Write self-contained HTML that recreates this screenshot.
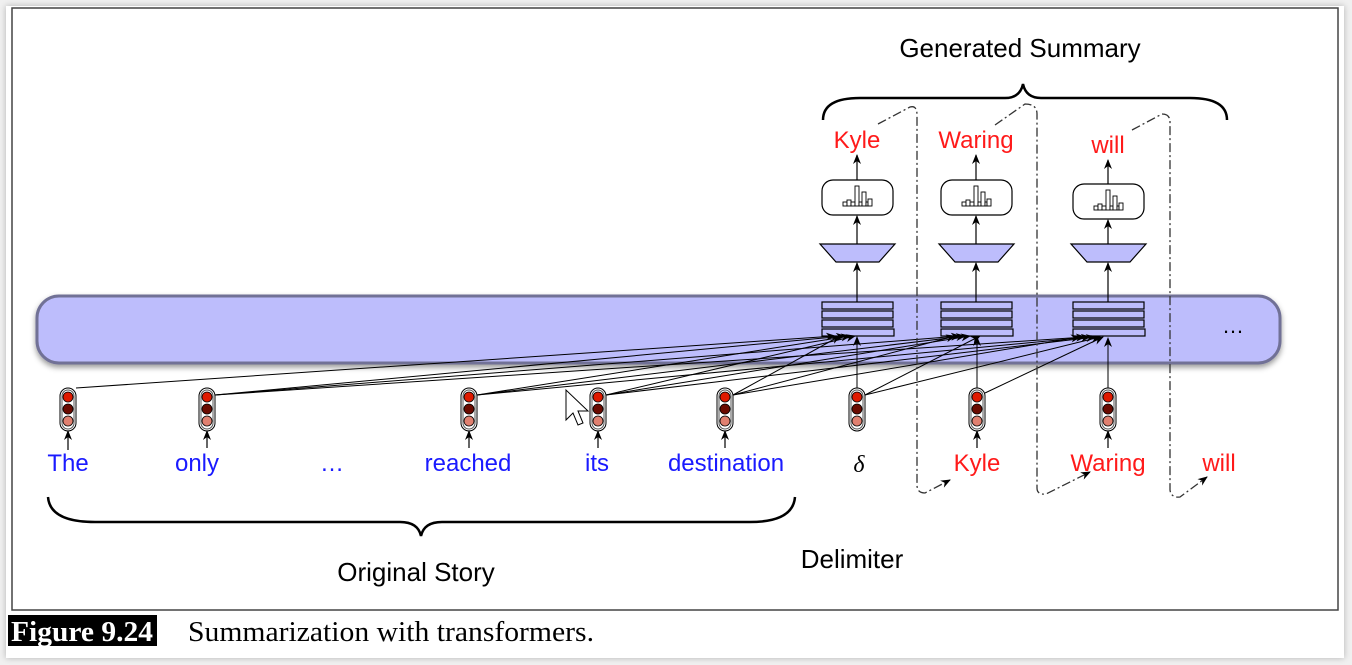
<!DOCTYPE html>
<html><head><meta charset="utf-8"><style>
html,body{margin:0;padding:0;background:#f0f0f0;}
body{width:1352px;height:665px;position:relative;overflow:hidden;}
#card{position:absolute;left:6px;top:6px;width:1338px;height:652px;background:#fff;box-shadow:0 0 6px rgba(0,0,0,0.25);}
svg{position:absolute;left:0;top:0;}
.s{font-family:"Liberation Sans",sans-serif;}
.r{font-family:"Liberation Serif",serif;}
</style></head><body>
<div id="card"></div>
<svg width="1352" height="665" viewBox="0 0 1352 665">
<defs>
<marker id="a" markerWidth="10" markerHeight="8" refX="9" refY="4" orient="auto" markerUnits="userSpaceOnUse"><path d="M0,0 L10,4 L0,8 L3,4 z" fill="#000"/></marker>
<filter id="sh" x="-5%" y="-30%" width="110%" height="160%"><feDropShadow dx="0" dy="3" stdDeviation="3" flood-color="#000" flood-opacity="0.4"/></filter>
<g id="tok">
<rect x="-8" y="-3" width="16" height="43" rx="8" fill="#fff" stroke="#000" stroke-width="1"/>
<rect x="-6" y="-1" width="12" height="39" rx="6" fill="none" stroke="#555" stroke-width="1"/>
<circle cx="0" cy="6" r="5" fill="#e01a00" stroke="#000" stroke-width="0.8"/>
<circle cx="0" cy="18" r="5" fill="#6b0a00" stroke="#000" stroke-width="0.8"/>
<circle cx="0" cy="30" r="5" fill="#e08070" stroke="#000" stroke-width="0.8"/>
</g>
<g id="stk" fill="#bdbdfc" stroke="#000" stroke-width="1.2">
<rect x="-35" y="0" width="71" height="7"/><rect x="-35" y="9" width="71" height="7"/><rect x="-35" y="18" width="71" height="7"/><rect x="-35" y="27" width="72" height="7"/>
</g>
<g id="head">
<rect x="-35" y="0" width="71" height="35" rx="11" fill="#fff" stroke="#000" stroke-width="1.2"/>
<g fill="#fff" stroke="#000" stroke-width="0.9">
<rect x="-14" y="22" width="4" height="4"/><rect x="-10" y="20" width="4" height="6"/><rect x="-6" y="22" width="4" height="4"/><rect x="-2" y="6" width="4" height="20"/><rect x="2" y="22" width="3" height="4"/><rect x="5" y="12" width="4" height="14"/><rect x="9" y="22" width="2" height="4"/><rect x="11" y="19" width="4" height="7"/>
</g>
</g>
<path id="trap" d="M-37,0 L38,0 L22,18 L-21,18 Z" fill="#bdbdfc" stroke="#000" stroke-width="1.2"/>
</defs>
<rect x="12" y="8" width="1326" height="602" fill="#fff" stroke="#444" stroke-width="1.5"/>
<rect x="37" y="296" width="1243" height="67" rx="22" fill="#bdbdfc" stroke="#717196" stroke-width="3" filter="url(#sh)"/>
<text class="s" x="1233" y="333" font-size="22" text-anchor="middle">…</text>

<g transform="translate(857,302)"><use href="#stk"/></g>
<g transform="translate(976,302)"><use href="#stk"/></g>
<g transform="translate(1108,302)"><use href="#stk"/></g>
<g transform="translate(857,244)"><use href="#trap"/></g>
<g transform="translate(976,244)"><use href="#trap"/></g>
<g transform="translate(1108,244)"><use href="#trap"/></g>
<g transform="translate(857,180)"><use href="#head"/></g>
<g transform="translate(976,180)"><use href="#head"/></g>
<g transform="translate(1108,184)"><use href="#head"/></g>
<g stroke="#000" stroke-width="1.2" marker-end="url(#a)">
<line x1="857" y1="302" x2="857" y2="263"/><line x1="976" y1="302" x2="976" y2="263"/><line x1="1108" y1="302" x2="1108" y2="263"/>
<line x1="857" y1="244" x2="857" y2="216"/><line x1="976" y1="244" x2="976" y2="216"/><line x1="1108" y1="244" x2="1108" y2="220"/>
<line x1="857" y1="180" x2="857" y2="155"/><line x1="976" y1="180" x2="976" y2="155"/><line x1="1108" y1="184" x2="1108" y2="160"/>
</g>
<g class="s" font-size="24" fill="#ff1a1a" text-anchor="middle">
<text x="857" y="148">Kyle</text>
<text x="976" y="148">Waring</text>
<text x="1108" y="153">will</text>
</g>

<g stroke="#000" stroke-width="1" marker-end="url(#a)" fill="none">
<line x1="76" y1="388" x2="835" y2="336"/>
<line x1="215" y1="395" x2="845" y2="336"/><line x1="215" y1="395" x2="960" y2="336"/><line x1="215" y1="395" x2="1085" y2="337"/>
<line x1="477" y1="395" x2="850" y2="336"/><line x1="477" y1="395" x2="965" y2="336"/><line x1="477" y1="395" x2="1090" y2="337"/>
<line x1="606" y1="395" x2="855" y2="336"/><line x1="606" y1="395" x2="970" y2="336"/><line x1="606" y1="395" x2="1095" y2="337"/>
<line x1="733" y1="395" x2="840" y2="336"/><line x1="733" y1="395" x2="955" y2="336"/><line x1="733" y1="395" x2="1080" y2="337"/>
<line x1="857" y1="388" x2="857" y2="337"/><line x1="865" y1="395" x2="980" y2="336"/><line x1="865" y1="395" x2="1100" y2="337"/>
<line x1="977" y1="388" x2="977" y2="337"/><line x1="985" y1="393" x2="1103" y2="337"/>
<line x1="1108" y1="388" x2="1108" y2="338"/>
</g>
<use href="#tok" x="68" y="391"/><use href="#tok" x="207" y="391"/><use href="#tok" x="469" y="391"/><use href="#tok" x="598" y="391"/><use href="#tok" x="725" y="391"/><use href="#tok" x="857" y="391"/><use href="#tok" x="977" y="391"/><use href="#tok" x="1108" y="391"/>
<g stroke="#000" stroke-width="1.2" marker-end="url(#a)">
<line x1="68" y1="450" x2="68" y2="431"/><line x1="207" y1="448" x2="207" y2="431"/><line x1="469" y1="448" x2="469" y2="431"/><line x1="598" y1="448" x2="598" y2="431"/><line x1="725" y1="448" x2="725" y2="431"/><line x1="977" y1="448" x2="977" y2="431"/><line x1="1108" y1="448" x2="1108" y2="431"/>
</g>
<g class="s" font-size="24" fill="#1a1aff" text-anchor="middle">
<text x="68" y="471">The</text><text x="197" y="471">only</text><text x="332" y="471">…</text><text x="468" y="471">reached</text><text x="597" y="471">its</text><text x="726" y="471">destination</text>
</g>
<text class="r" x="859" y="472" font-size="24" font-style="italic" text-anchor="middle">δ</text>
<g class="s" font-size="24" fill="#ff1a1a" text-anchor="middle">
<text x="977" y="471">Kyle</text><text x="1108" y="471">Waring</text><text x="1219" y="471">will</text>
</g>

<g stroke="#333" stroke-width="1.3" fill="none" stroke-dasharray="9,3,2,3">
<path d="M878,124 L910,107 Q917,105 917,115 L917,485 Q917,493 925,493 L950,480" marker-end="url(#a)"/>
<path d="M995,125 L1025,104 Q1037,104 1037,114 L1037,488 Q1037,495 1046,494 L1090,472" marker-end="url(#a)"/>
<path d="M1132,130 L1162,114 Q1170,114 1170,122 L1170,490 Q1171,498 1180,497 L1207,477" marker-end="url(#a)"/>
</g>

<path d="M823,120 Q823,98 860,98 L1005,98 Q1020,98 1023,84 Q1026,98 1041,98 L1190,98 Q1227,98 1227,120" fill="none" stroke="#000" stroke-width="2.5"/>
<path d="M48,497 Q50,522 95,522 L400,522 Q418,522 421,536 Q424,522 442,522 L750,522 Q793,522 795,497" fill="none" stroke="#000" stroke-width="2.5"/>
<g class="s" font-size="26" text-anchor="middle">
<text x="1020" y="57">Generated Summary</text>
<text x="416" y="581">Original Story</text>
<text x="852" y="568">Delimiter</text>
</g>

<path d="M566,390 L566,420 L573,413 L578,425 L583,423 L578,411 L588,411 Z" fill="#fff" stroke="#000" stroke-width="1"/>

<rect x="8" y="615" width="149" height="31" fill="#000"/>
<text class="r" x="11" y="641" font-size="29" font-weight="bold" fill="#fff" textLength="142" lengthAdjust="spacingAndGlyphs">Figure 9.24</text>
<text class="r" x="188" y="641" font-size="29" textLength="406" lengthAdjust="spacingAndGlyphs">Summarization with transformers.</text>
</svg>
</body></html>
